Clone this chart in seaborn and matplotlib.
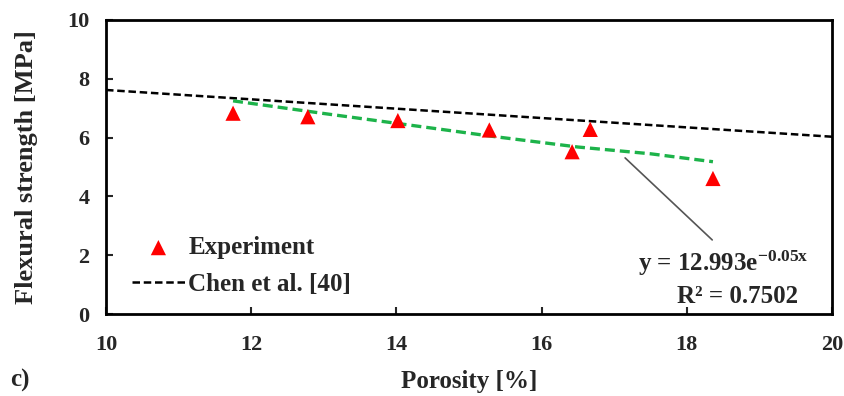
import matplotlib
matplotlib.use("Agg")
import matplotlib.pyplot as plt
import seaborn as sns
import pandas as pd

# Data
exp_porosity = [11.75, 12.78, 14.02, 15.28, 16.42, 16.67, 18.36]
exp_strength = [6.83, 6.71, 6.58, 6.26, 5.52, 6.28, 4.61]
chen_porosity = [10.0, 20.0]
chen_strength = [7.62, 6.03]
fit_porosity = [11.75, 13.0, 14.5, 15.3, 16.5, 17.5, 18.36]
fit_strength = [7.25, 6.82, 6.32, 6.05, 5.68, 5.45, 5.18]
x_ticks = [10, 12, 14, 16, 18, 20]
y_ticks = [0, 2, 4, 6, 8, 10]

sns.set_theme(style="ticks")
plt.rcParams['font.family'] = ['Liberation Serif', 'DejaVu Serif']
plt.rcParams['font.weight'] = 'bold'
plt.rcParams['mathtext.fontset'] = 'custom'
plt.rcParams['mathtext.rm'] = 'Liberation Serif:bold'
plt.rcParams['mathtext.bf'] = 'Liberation Serif:bold'
plt.rcParams['mathtext.it'] = 'Liberation Serif:bold'

fig = plt.figure(figsize=(8.44, 3.96), dpi=100)
ax = fig.add_axes([0.1256, 0.207, 0.8602, 0.7425])

exp_df = pd.DataFrame({"x": exp_porosity, "y": exp_strength})
chen_df = pd.DataFrame({"x": chen_porosity, "y": chen_strength})
fit_df = pd.DataFrame({"x": fit_porosity, "y": fit_strength})

sns.lineplot(data=chen_df, x="x", y="y", ax=ax, color="black", lw=1.8,
             linestyle=(0, (3, 1.5)), label="Chen et al. [40]")
sns.lineplot(data=fit_df, x="x", y="y", ax=ax, color="#1db34a", lw=2.4,
             linestyle=(0, (3, 1.5)), label="_nolegend_")
sns.scatterplot(data=exp_df, x="x", y="y", ax=ax, marker="^", color="#ff0000",
                s=120, edgecolor="none", label="Experiment", zorder=5)

ax.set_xlim(10, 20)
ax.set_ylim(0, 10)
ax.set_xticks(x_ticks)
ax.set_yticks(y_ticks)
ax.tick_params(direction="in", length=5, width=1.5, labelsize=16)
ax.tick_params(axis="x", pad=15)
ax.tick_params(axis="y", pad=12)
for lab in ax.get_xticklabels() + ax.get_yticklabels():
    lab.set_fontweight("bold")
for sp in ax.spines.values():
    sp.set_linewidth(2)
    sp.set_color("black")

ax.set_xlabel("Porosity [%]", fontsize=18, fontweight="bold", labelpad=11)
ax.set_ylabel("Flexural strength [MPa]", fontsize=19, fontweight="bold", labelpad=21)

h, l = ax.get_legend_handles_labels()
order = [l.index("Experiment"), l.index("Chen et al. [40]")]
leg = ax.legend([h[i] for i in order], [l[i] for i in order], loc="lower left",
                bbox_to_anchor=(0.005, -0.015), frameon=False,
                prop={"family": "Liberation Serif", "weight": "bold", "size": 18},
                handlelength=2.1, handletextpad=0.15, labelspacing=0.55)

ax.annotate("", xy=(17.15, 5.31), xytext=(18.35, 2.52),
            arrowprops=dict(arrowstyle="-", color="#555555", lw=1.2,
                            shrinkA=0, shrinkB=0))
ax.text(18.5, 1.73, r"y = 12.993e$^{-0.05x}$", fontsize=18, fontweight="bold",
        ha="center", va="center")
ax.text(18.7, 0.58, "R² = 0.7502", fontsize=18, fontweight="bold",
        ha="center", va="center")

fig.text(0.012, 0.038, "c)", fontsize=18, fontweight="bold", va="center")

fig.savefig("out.png", dpi=100)
